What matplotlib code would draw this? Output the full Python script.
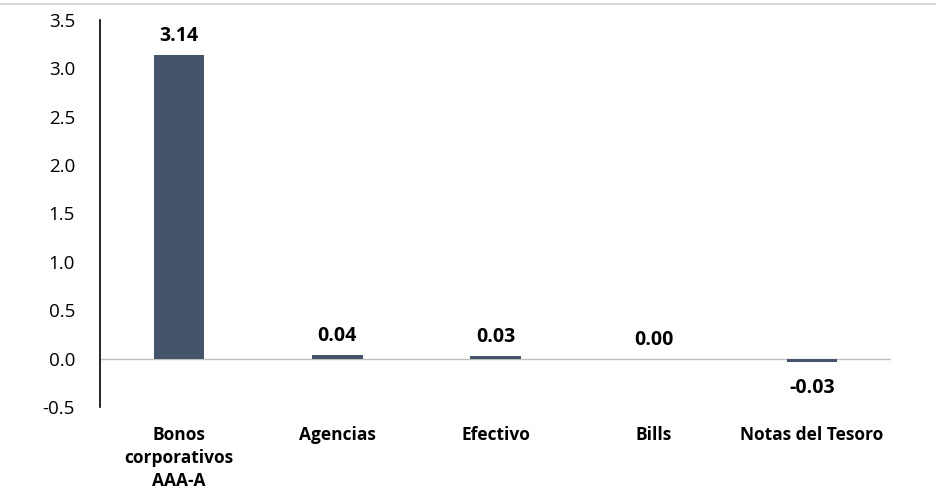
import matplotlib.pyplot as plt
import matplotlib.lines as mlines

categories = ["Bonos\ncorporativos\nAAA-A", "Agencias", "Efectivo", "Bills", "Notas del Tesoro"]
values = [3.14, 0.04, 0.03, 0.00, -0.03]
yticks = [-0.5, 0.0, 0.5, 1.0, 1.5, 2.0, 2.5, 3.0, 3.5]

plt.rcParams["font.family"] = ["Open Sans", "DejaVu Sans"]

fig = plt.figure(figsize=(9.36, 4.96), dpi=100)
ax = fig.add_axes([100 / 936, 1 - 407 / 496, 791 / 936, 387 / 496])

x = list(range(len(categories)))
ax.bar(x, values, width=0.32, color="#44546A", zorder=3)

for xi, v in zip(x, values):
    if v >= 0:
        ax.text(xi, v + 0.09, f"{v:.2f}", ha="center", va="bottom",
                fontsize=14, fontweight="bold", color="#000000")
    else:
        ax.text(xi, v - 0.17, f"{v:.2f}", ha="center", va="top",
                fontsize=14, fontweight="bold", color="#000000")

ax.set_xlim(-0.5, len(categories) - 0.5)
ax.set_ylim(-0.5, 3.5)
ax.set_yticks(yticks)
ax.set_yticklabels([f"{t:.1f}" for t in yticks], fontsize=13.5)
ax.axhline(0, color="#BFBFBF", linewidth=1, zorder=2)

ax.set_xticks(x)
ax.set_xticklabels(categories, fontsize=12.5, fontweight="bold", linespacing=1.35)
ax.tick_params(axis="x", length=0, pad=14)
ax.tick_params(axis="y", length=0, pad=18)

for side in ["top", "right", "bottom"]:
    ax.spines[side].set_visible(False)
ax.spines["left"].set_color("#000000")
ax.spines["left"].set_linewidth(1.2)

# thin border line along the top of the figure
fig.add_artist(mlines.Line2D([0, 1], [1 - 4 / 496, 1 - 4 / 496],
                             transform=fig.transFigure, color="#D9D9D9", linewidth=1.5))

fig.savefig("out.png", dpi=100)
